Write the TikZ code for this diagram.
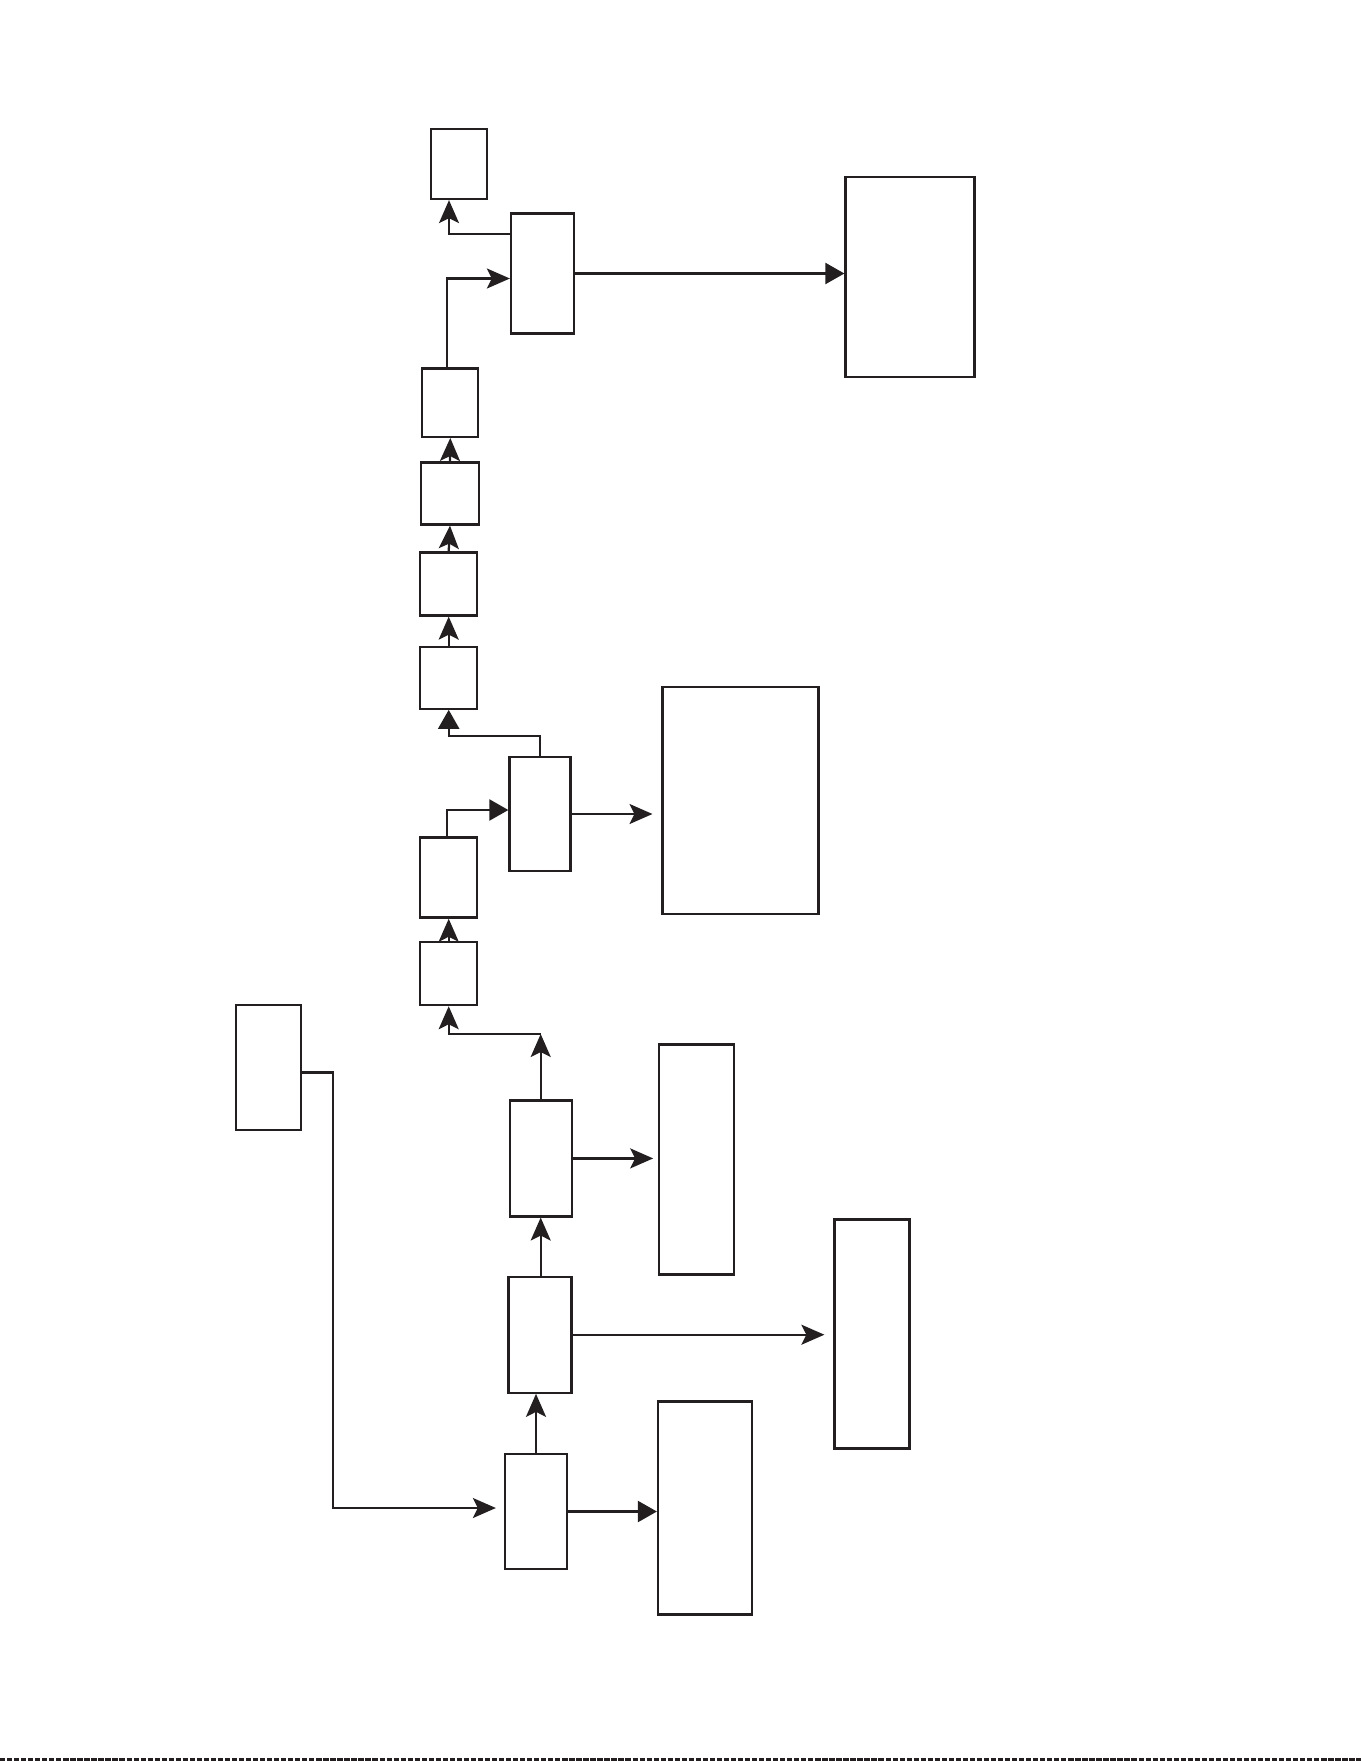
\documentclass[tikz,border=0pt]{standalone}
\usepackage{xcolor}
\usepackage{tikz}
\usetikzlibrary{arrows.meta, positioning}
\definecolor{ink}{HTML}{231F20}

\begin{document}
\begin{tikzpicture}[x=0.02cm, y=-0.02cm, line width=1.3pt, draw=ink,
        blk/.style={draw=ink, inner sep=0pt, fill=white},
        arr/.style={draw=ink, -{Stealth[length=0.46cm, width=0.40cm, inset=0.10cm]}},
        arrT/.style={draw=ink, -{Triangle[length=0.38cm, width=0.42cm]}}]
                \useasboundingbox (0,0) rectangle (1361,1761);
                % upper chain
                \node[blk, minimum width=1.12cm, minimum height=1.40cm] (A) at (459,164) {};
                \node[blk, minimum width=1.26cm, minimum height=2.40cm] (B) at (542.5,273.5) {};
                \node[blk, minimum width=2.58cm, minimum height=4.00cm] (C) at (910,277) {};
                \node[blk, minimum width=1.12cm, minimum height=1.37cm] (D) at (450.3,402.6) {};
                \node[blk, minimum width=1.16cm, minimum height=1.24cm] (E) at (450,493.5) {};
                \node[blk, minimum width=1.14cm, minimum height=1.26cm] (F) at (448.7,584) {};
                \node[blk, minimum width=1.14cm, minimum height=1.24cm] (G) at (448.7,677.7) {};
                \node[blk, minimum width=1.22cm, minimum height=2.28cm] (H) at (540,814) {};
                \node[blk, minimum width=3.12cm, minimum height=4.54cm] (I) at (740.6,800.7) {};
                \node[blk, minimum width=1.14cm, minimum height=1.60cm] (J) at (448.7,877.6) {};
                \node[blk, minimum width=1.14cm, minimum height=1.26cm] (K) at (448.7,973.6) {};
                % lower chain
                \node[blk, minimum width=1.30cm, minimum height=2.50cm] (L) at (268.4,1067.4) {};
                \node[blk, minimum width=1.24cm, minimum height=2.32cm] (M) at (540.7,1158.4) {};
                \node[blk, minimum width=1.50cm, minimum height=4.60cm] (N) at (696.8,1159.5) {};
                \node[blk, minimum width=1.26cm, minimum height=2.32cm] (O) at (540,1334.7) {};
                \node[blk, minimum width=1.50cm, minimum height=4.58cm] (P) at (872,1334) {};
                \node[blk, minimum width=1.24cm, minimum height=2.30cm] (Q) at (536,1511.5) {};
                \node[blk, minimum width=1.88cm, minimum height=4.26cm] (R) at (705,1508) {};
                \coordinate (mk) at (540.7,1034);

                % connectors
                \draw[arr] ([yshift=0.79cm]B.west) -| ([xshift=-0.2cm]A.south);
                \draw[arr] ([xshift=-0.06cm]D.north) |- ([yshift=-0.1cm]B.west);
                \draw[arrT] (B.east) -- (B.east -| C.west);
                \draw[arr] (E.north) -- (D.south);
                \draw[arr] (F.north) -- (E.south);
                \draw[arr] (G.north) -- (F.south);
                \draw[arrT] (H.north) -- ++(0,-20) -| (G.south);
                \draw[arrT] ([xshift=-0.03cm]J.north) |- ([yshift=0.08cm]H.west);
                \draw[arr, shorten >=0.18cm] (H.east) -- (H.east -| I.west);
                \draw[arr] (K.north) -- (J.south);
                \draw[arr] (M.north) -- (mk);
                \draw[arr] (mk) -| (K.south);
                \draw[arr, shorten >=0.1cm] (M.east) -- (M.east -| N.west);
                \draw[arr] (O.north -| M.south) -- (M.south);
                \draw[arr, shorten >=0.18cm] (O.east) -- (O.east -| P.west);
                \draw[arr] (Q.north) -- (Q.north |- O.south);
                \draw[arrT] (Q.east) -- (Q.east -| R.west);
                \draw[arr, shorten >=0.16cm] ([yshift=-0.1cm]L.east) -- ++(31,0) |- ([yshift=0.07cm]Q.west);

                % scan edge
                \draw[line width=0.06cm, ink, dash pattern=on 3pt off 1pt] (0,1759) -- (1361,1759);
            \end{tikzpicture}
\end{document}
